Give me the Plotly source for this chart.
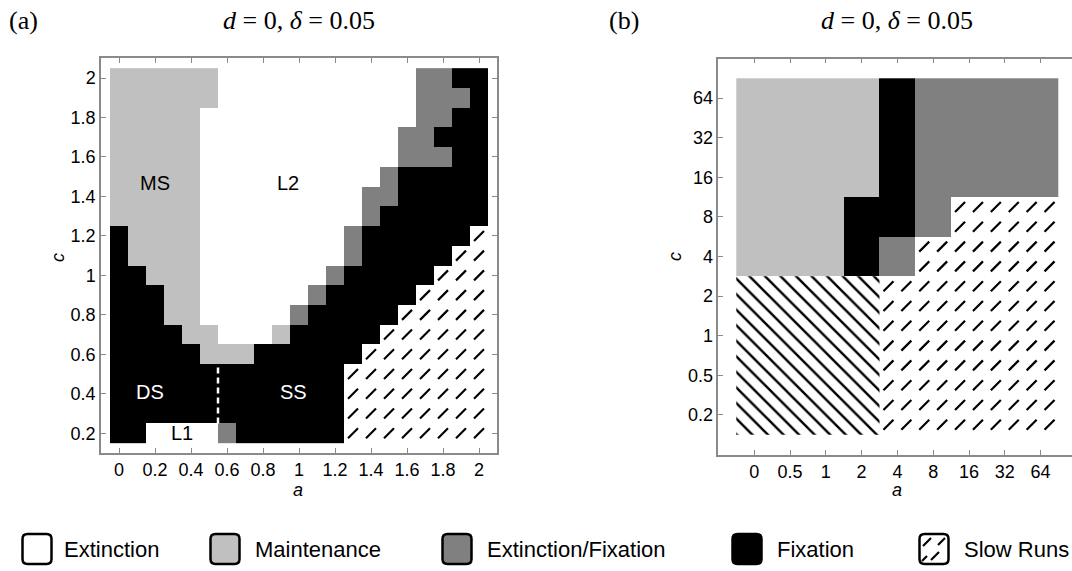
import plotly.graph_objects as go

W, H = 1072, 571

# ---------------- Panel (a) data ----------------
a_values = [0.0, 0.1, 0.2, 0.3, 0.4, 0.5, 0.6, 0.7, 0.8, 0.9, 1.0,
            1.1, 1.2, 1.3, 1.4, 1.5, 1.6, 1.7, 1.8, 1.9, 2.0]
c_values = [2.0, 1.9, 1.8, 1.7, 1.6, 1.5, 1.4, 1.3, 1.2, 1.1, 1.0,
            0.9, 0.8, 0.7, 0.6, 0.5, 0.4, 0.3, 0.2]
# E = Extinction, M = Maintenance, X = Extinction/Fixation, F = Fixation, S = Slow Runs
outcome_a = [
    "MMMMMMEEEEEEEEEEEXXFF",  # c = 2.0
    "MMMMMMEEEEEEEEEEEXXXF",  # 1.9
    "MMMMMEEEEEEEEEEEEXXFF",  # 1.8
    "MMMMMEEEEEEEEEEEXXFFF",  # 1.7
    "MMMMMEEEEEEEEEEEXXXFF",  # 1.6
    "MMMMMEEEEEEEEEEXFFFFF",  # 1.5
    "MMMMMEEEEEEEEEXXFFFFF",  # 1.4
    "MMMMMEEEEEEEEEXFFFFFF",  # 1.3
    "FMMMMEEEEEEEEXFFFFFFS",  # 1.2
    "FMMMMEEEEEEEEXFFFFFSS",  # 1.1
    "FFMMMEEEEEEEXFFFFFSSS",  # 1.0
    "FFFMMEEEEEEXFFFFFSSSS",  # 0.9
    "FFFMMEEEEEXFFFFFSSSSS",  # 0.8
    "FFFFMMEEEMFFFFFSSSSSS",  # 0.7
    "FFFFFMMMFFFFFFSSSSSSS",  # 0.6
    "FFFFFFFFFFFFFSSSSSSSS",  # 0.5
    "FFFFFFFFFFFFFSSSSSSSS",  # 0.4
    "FFFFFFFFFFFFFSSSSSSSS",  # 0.3
    "FFEEEEXFFFFFFSSSSSSSS",  # 0.2
]
a_ticks = [0, 0.2, 0.4, 0.6, 0.8, 1.0, 1.2, 1.4, 1.6, 1.8, 2.0]
a_ticktext = ["0", "0.2", "0.4", "0.6", "0.8", "1", "1.2", "1.4", "1.6", "1.8", "2"]
c_ticks = [0.2, 0.4, 0.6, 0.8, 1.0, 1.2, 1.4, 1.6, 1.8, 2.0]
c_ticktext = ["0.2", "0.4", "0.6", "0.8", "1", "1.2", "1.4", "1.6", "1.8", "2"]
region_labels = ["MS", "L2", "DS", "SS", "L1"]
region_a = [0.20, 0.94, 0.17, 0.97, 0.35]
region_c = [1.47, 1.47, 0.41, 0.41, 0.20]
region_color = ["black", "black", "white", "white", "black"]
divider_a = [0.55, 0.55]
divider_c = [0.25, 0.55]

# ---------------- Panel (b) data ----------------
b_a_labels = ["0", "0.5", "1", "2", "4", "8", "16", "32", "64"]
b_c_labels = ["0.2", "0.5", "1", "2", "4", "8", "16", "32", "64"]
# rows from c = 64 down to c = 0.2 ; N = region drawn with back-slash hatching
outcome_b = [
    "MMMMFXXXX",  # 64
    "MMMMFXXXX",  # 32
    "MMMMFXXXX",  # 16
    "MMMFFXSSS",  # 8
    "MMMFXSSSS",  # 4
    "NNNNSSSSS",  # 2
    "NNNNSSSSS",  # 1
    "NNNNSSSSS",  # 0.5
    "NNNNSSSSS",  # 0.2
]

legend_names = ["Extinction", "Maintenance", "Extinction/Fixation", "Fixation", "Slow Runs"]
legend_fill = ["#FFFFFF", "#C0C0C0", "#808080", "#000000", "#FFFFFF"]

for r in outcome_a:
    assert len(r) == len(a_values)

code_num = {"E": 0, "M": 1, "X": 2, "F": 3, "S": 4, "N": 5}
colorscale = [[0.0, "#FFFFFF"], [0.2, "#C0C0C0"], [0.4, "#808080"],
              [0.6, "#000000"], [0.8, "#FFFFFF"], [1.0, "#FFFFFF"]]

fig = go.Figure()

# ---- panel a heatmap ----
ys_a = list(reversed(c_values))
z_a = [[code_num[ch] for ch in row] for row in reversed(outcome_a)]
fig.add_trace(go.Heatmap(x=a_values, y=ys_a, z=z_a, colorscale=colorscale,
                         zmin=0, zmax=5, showscale=False, hoverinfo="skip",
                         xaxis="x", yaxis="y"))
# slow-run dashes (one per cell)
sx, sy = [], []
for row, c in zip(outcome_a, c_values):
    for ch, a in zip(row, a_values):
        if ch == "S":
            sx.append(a)
            sy.append(c)
fig.add_trace(go.Scatter(x=sx, y=sy, mode="markers", xaxis="x", yaxis="y",
                         marker=dict(symbol="line-ne", size=10,
                                     line=dict(width=2.2, color="black")),
                         hoverinfo="skip", showlegend=False))
fig.add_trace(go.Scatter(x=divider_a, y=divider_c, mode="lines", xaxis="x", yaxis="y",
                         line=dict(color="white", width=2.5, dash="6px,4px"),
                         hoverinfo="skip", showlegend=False))

# ---- panel b heatmap ----
xb = list(range(len(b_a_labels)))
yb = list(range(len(b_c_labels)))
z_b = [[code_num[ch] for ch in row] for row in reversed(outcome_b)]
fig.add_trace(go.Heatmap(x=xb, y=yb, z=z_b, colorscale=colorscale,
                         zmin=0, zmax=5, showscale=False, hoverinfo="skip",
                         xaxis="x2", yaxis="y2"))
hx, hy, dx, dy = [], [], [], []
for j, row in enumerate(reversed(outcome_b)):
    for i, ch in enumerate(row):
        if ch == "N":
            hx += [i - 0.5, i + 0.5, i + 0.5, i - 0.5, i - 0.5, None]
            hy += [j - 0.5, j - 0.5, j + 0.5, j + 0.5, j - 0.5, None]
        elif ch == "S":
            for ox in (-0.25, 0.25):
                for oy in (-0.25, 0.25):
                    dx.append(i + ox)
                    dy.append(j + oy)
fig.add_trace(go.Scatter(x=hx, y=hy, mode="lines", fill="toself", xaxis="x2", yaxis="y2",
                         line=dict(width=0, color="rgba(0,0,0,0)"),
                         fillcolor="white",
                         fillpattern=dict(shape="\\", fgcolor="black", bgcolor="white",
                                          size=11, solidity=0.22, fgopacity=1),
                         hoverinfo="skip", showlegend=False))
fig.add_trace(go.Scatter(x=dx, y=dy, mode="markers", xaxis="x2", yaxis="y2",
                         marker=dict(symbol="line-ne", size=10,
                                     line=dict(width=2.2, color="black")),
                         hoverinfo="skip", showlegend=False))

# ---------------- layout ----------------
def px_x(p):
    return p / W

def px_y(p):
    return 1 - p / H

FONT = "Liberation Sans, Arial"
axis_common = dict(showgrid=False, zeroline=False, showline=True, linecolor="#8a8a8a",
                   linewidth=1.5, ticks="inside", ticklen=5, tickcolor="#8a8a8a",
                   tickwidth=1, tickfont=dict(family=FONT, size=18, color="black"))

fig.update_layout(
    width=W, height=H, margin=dict(l=0, r=0, t=0, b=0),
    paper_bgcolor="white", plot_bgcolor="white", showlegend=False,
    xaxis=dict(domain=[px_x(101), px_x(497)], range=[-0.1, 2.1], tickvals=a_ticks,
               ticktext=a_ticktext, mirror="ticks", anchor="y", **axis_common),
    yaxis=dict(domain=[px_y(453), px_y(58.3)], range=[0.1, 2.1], tickvals=c_ticks,
               ticktext=c_ticktext, mirror="ticks", anchor="x", **axis_common),
    xaxis2=dict(domain=[px_x(718.4), 1.0], range=[-1, -1 + (W - 718.4) / 35.8], tickvals=xb,
                ticktext=b_a_labels, mirror="ticks", anchor="y2", **axis_common),
    yaxis2=dict(domain=[px_y(454.5), px_y(58.5)], range=[-1, 9], tickvals=yb,
                ticktext=b_c_labels, mirror=False, anchor="x2", **axis_common),
)

def note(x, y, text, size=18, color="black", family=FONT, xanchor="center", **kw):
    return dict(x=x, y=y, text=text, showarrow=False, xanchor=xanchor, yanchor="middle",
                font=dict(family=family, size=size, color=color), **kw)

ann = []
for t, a, c, col in zip(region_labels, region_a, region_c, region_color):
    ann.append(note(a, c, t, size=20, color=col, xref="x", yref="y"))
# axis titles
for xpx in (298, 897):
    ann.append(note(px_x(xpx), px_y(490), "<i>a</i>", xref="paper", yref="paper"))
for xpx in (58, 675):
    ann.append(note(px_x(xpx), px_y(257), "<i>c</i>", textangle=-90, xref="paper", yref="paper"))
# panel titles
SERIF = "Liberation Serif, DejaVu Serif"
ann.append(note(px_x(7), px_y(20), "(a)", size=26, family=SERIF, xanchor="left",
                xref="paper", yref="paper"))
ann.append(note(px_x(299), px_y(20), "<i>d</i> = 0, <i>δ</i> = 0.05", size=26, family=SERIF,
                xref="paper", yref="paper"))
ann.append(note(px_x(607), px_y(20), "(b)", size=26, family=SERIF, xanchor="left",
                xref="paper", yref="paper"))
ann.append(note(px_x(897), px_y(20), "<i>d</i> = 0, <i>δ</i> = 0.05", size=26, family=SERIF,
                xref="paper", yref="paper"))

# custom legend
legend_box_x = [37, 225, 457, 747, 934]
legend_text_x = [62, 253, 485, 775, 962]
legend_y = 549
shapes = []

def rounded_path(hw, hh, r):
    return (f"M{-hw + r},{-hh} L{hw - r},{-hh} Q{hw},{-hh} {hw},{-hh + r} "
            f"L{hw},{hh - r} Q{hw},{hh} {hw - r},{hh} L{-hw + r},{hh} "
            f"Q{-hw},{hh} {-hw},{hh - r} L{-hw},{-hh + r} Q{-hw},{-hh} {-hw + r},{-hh} Z")

for name, col, bx, tx in zip(legend_names, legend_fill, legend_box_x, legend_text_x):
    shapes.append(dict(type="path", xref="paper", yref="paper", xsizemode="pixel",
                       ysizemode="pixel", xanchor=px_x(bx), yanchor=px_y(legend_y),
                       path=rounded_path(14.5, 15, 5), fillcolor=col,
                       line=dict(color="black", width=2.5)))
    ann.append(note(px_x(tx), px_y(legend_y), name, size=22, xanchor="left",
                    xref="paper", yref="paper"))
# dashes inside slow-run legend icon
for (x0, y0, x1, y1) in ((-11, 3, -3, 11), (-3, -11, 5, -3), (4, 4, 11, 11), (-12, -12, -7, -7)):
    shapes.append(dict(type="line", xref="paper", yref="paper", xsizemode="pixel",
                       ysizemode="pixel", xanchor=px_x(legend_box_x[-1]),
                       yanchor=px_y(legend_y), x0=x0, y0=y0, x1=x1, y1=y1,
                       line=dict(color="black", width=2.2)))

fig.update_layout(annotations=ann, shapes=shapes)
fig.write_html("out.html")
